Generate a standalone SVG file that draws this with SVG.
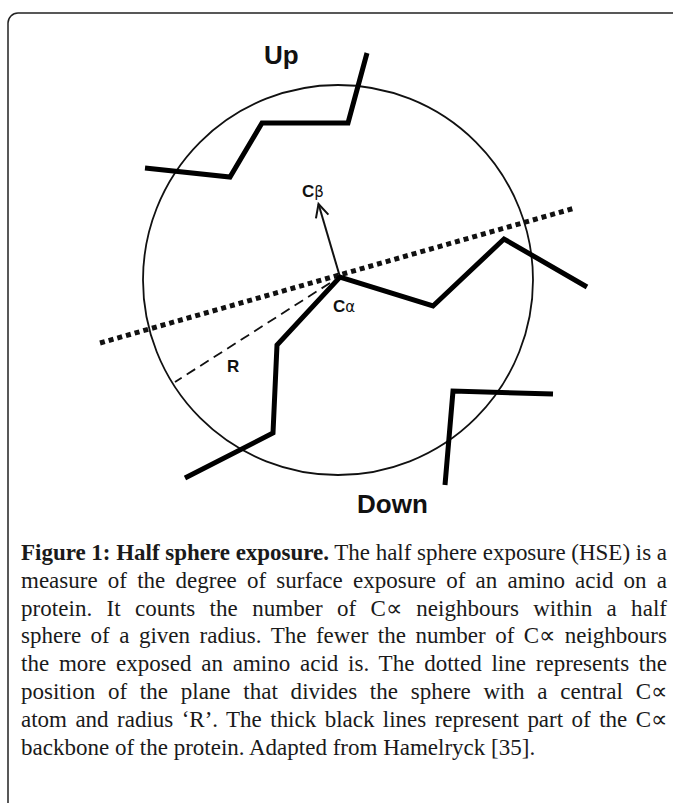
<svg xmlns="http://www.w3.org/2000/svg" width="673" height="803" viewBox="0 0 673 803">
<style>
.frame{fill:none;stroke:#222;stroke-width:1.5}
.chain{fill:none;stroke:#000;stroke-width:5;stroke-linejoin:miter;stroke-linecap:butt}
.circle{fill:none;stroke:#111;stroke-width:1.8}
.dotted{fill:none;stroke:#111;stroke-width:5;stroke-dasharray:5 4}
.dashed{fill:none;stroke:#111;stroke-width:1.8;stroke-dasharray:10 6}
.lbl{font-family:"Liberation Sans",Arial,sans-serif;font-weight:bold;fill:#111}
.greek{font-family:"DejaVu Sans","Liberation Sans",sans-serif;font-weight:normal}
.cap{font-family:"Liberation Serif","Times New Roman",serif;font-size:23px;fill:#1a1a1a}
.capb{font-weight:bold}
</style>
<defs>
<marker id="openArrow" markerUnits="userSpaceOnUse" markerWidth="24" markerHeight="24" viewBox="-16 -12 20 24" refX="0" refY="0" orient="auto">
<path d="M-13,-6.5 L0,0 L-13,6.5" fill="none" stroke="#111" stroke-width="2"/>
</marker>
</defs>
<rect class="frame" x="8" y="13" width="720" height="840" rx="10"/>
<g id="sphere"><circle class="circle" cx="338" cy="280" r="195"/></g>
<g id="connectors">
<line class="dotted" x1="100" y1="343" x2="575" y2="208"/>
<line class="dashed" x1="330" y1="283" x2="175" y2="382"/>
<line x1="340" y1="277" x2="318.5" y2="204" stroke="#111" stroke-width="2" marker-end="url(#openArrow)"/>
</g>
<g id="chain-up"><polyline class="chain" points="145,168 230,177 262,123 348,123 367,53"/></g>
<g id="chain-center"><polyline class="chain" points="185,478 273,433 277,345 340,277 433,306 504,239 587,287"/></g>
<g id="chain-down"><polyline class="chain" points="445,485 453,391 553,394"/></g>
<g id="label-up"><text class="lbl" x="264" y="64" font-size="26">Up</text></g>
<g id="label-down"><text class="lbl" x="357" y="513" font-size="26">Down</text></g>
<g id="label-cb"><text class="lbl" x="302" y="197" font-size="17">C<tspan class="greek" font-size="15">β</tspan></text></g>
<g id="label-ca"><text class="lbl" x="333" y="312" font-size="17">C<tspan class="greek" font-size="15">α</tspan></text></g>
<g id="label-r"><text class="lbl" x="227" y="372" font-size="17">R</text></g>
<g id="caption">
<text class="cap" x="21" y="560" textLength="646" lengthAdjust="spacing"><tspan class="capb">Figure 1: Half sphere exposure.</tspan> The half sphere exposure (HSE) is a</text>
<text class="cap" x="21" y="587.8" word-spacing="4.4" textLength="646" lengthAdjust="spacing">measure of the degree of surface exposure of an amino acid on a</text>
<text class="cap" x="21" y="615.6" word-spacing="8.5" textLength="646" lengthAdjust="spacing">protein. It counts the number of C∝ neighbours within a half</text>
<text class="cap" x="21" y="643.4" word-spacing="3.7" textLength="646" lengthAdjust="spacing">sphere of a given radius. The fewer the number of C∝ neighbours</text>
<text class="cap" x="21" y="671.2" word-spacing="4" textLength="646" lengthAdjust="spacing">the more exposed an amino acid is. The dotted line represents the</text>
<text class="cap" x="21" y="699" word-spacing="7" textLength="646" lengthAdjust="spacing">position of the plane that divides the sphere with a central C∝</text>
<text class="cap" x="21" y="726.8" word-spacing="2.7" textLength="646" lengthAdjust="spacing">atom and radius ‘R’. The thick black lines represent part of the C∝</text>
<text class="cap" x="21" y="754.6">backbone of the protein. Adapted from Hamelryck [35].</text>
</g>
</svg>
